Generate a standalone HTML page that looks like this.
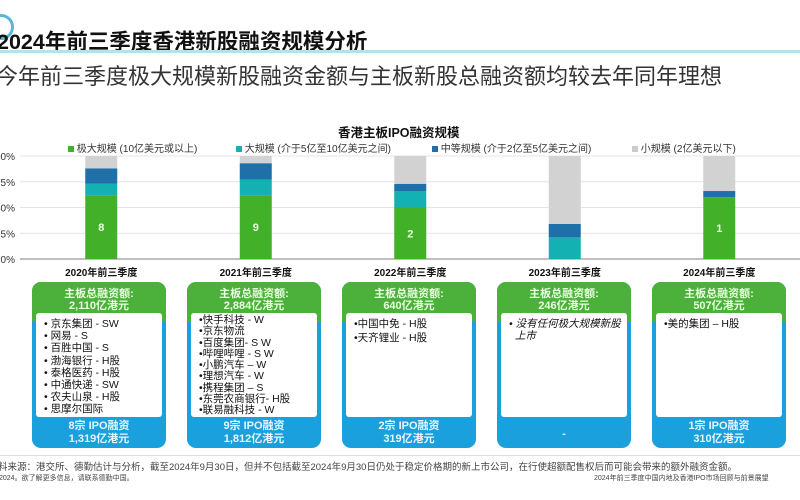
<!DOCTYPE html>
<html><head><meta charset="utf-8">
<style>
*{margin:0;padding:0;box-sizing:border-box}
body{width:800px;height:500px;background:#fff;position:relative;overflow:hidden;font-family:"Liberation Sans","Noto Sans CJK SC",sans-serif;color:#222}
.abs{position:absolute}
.card{position:absolute;top:282px;width:134px;height:166px;border-radius:9px;background:#1aa0dc;overflow:hidden}
.card .hd{position:absolute;left:0;top:0;width:100%;height:40px;background:#4cb13a;color:#e8ffe0;font-size:11px;font-weight:bold;text-align:center;line-height:12px;padding-top:6px}
.card .bd{position:absolute;left:4px;top:31px;width:126px;height:104px;background:#fff;border-radius:3px;font-size:10.5px;line-height:12.2px;padding:5px 0 0 8px;color:#111}
.card .ft{position:absolute;left:0;top:138px;width:100%;text-align:center;color:#e8f6ff;font-size:11px;font-weight:bold;line-height:13px}
.xl{position:absolute;font-size:10px;font-weight:bold;color:#111;width:120px;text-align:center;top:266px}
</style></head><body>
<div class="abs" style="left:-12px;top:14px;width:26px;height:26px;border:3px solid #5ab6d8;border-radius:50%"></div>
<div class="abs" style="left:-3px;top:25px;font-size:21.5px;font-weight:bold;color:#111;white-space:nowrap">2024年前三季度香港新股融资规模分析</div>
<div class="abs" style="left:0;top:50px;width:800px;height:3px;background:#b7dff0"></div>
<div class="abs" style="left:-4px;top:59px;font-size:22px;color:#333;white-space:nowrap">今年前三季度极大规模新股融资金额与主板新股总融资额均较去年同年理想</div>
<div class="abs" style="left:338px;top:122px;font-size:12.5px;font-weight:bold;color:#111">香港主板IPO融资规模</div>
<div class="abs" style="top:140px;left:0;width:800px;font-size:10px;color:#333;white-space:nowrap">
<span class="abs" style="left:68px"><span style="display:inline-block;width:6px;height:6px;background:#43b02a"></span> 极大规模 (10亿美元或以上)</span>
<span class="abs" style="left:236px"><span style="display:inline-block;width:6px;height:6px;background:#14b1b3"></span> 大规模 (介于5亿至10亿美元之间)</span>
<span class="abs" style="left:432px"><span style="display:inline-block;width:6px;height:6px;background:#1f6fa8"></span> 中等规模 (介于2亿至5亿美元之间)</span>
<span class="abs" style="left:632px"><span style="display:inline-block;width:6px;height:6px;background:#ccc"></span> 小规模 (2亿美元以下)</span>
</div>
<svg id="chart" class="abs" style="left:0;top:0" width="800" height="280"></svg>

<div class="card" style="left:32px">
<div class="hd">主板总融资额:<br>2,110亿港元</div>
<div class="bd">• 京东集团 - SW<br>• 网易 - S<br>• 百胜中国 - S<br>• 渤海银行 - H股<br>• 泰格医药 - H股<br>• 中通快递 - SW<br>• 农夫山泉 - H股<br>• 思摩尔国际</div>
<div class="ft">8宗 IPO融资<br>1,319亿港元</div></div>
<div class="card" style="left:187px">
<div class="hd">主板总融资额:<br>2,884亿港元</div>
<div class="bd" style="padding-top:2px;line-height:11.3px">•快手科技 - W<br>•京东物流<br>•百度集团- S W<br>•哔哩哔哩 - S W<br>•小鹏汽车 – W<br>•理想汽车 - W<br>•携程集团 – S<br>•东莞农商银行- H股<br>•联易融科技 - W</div>
<div class="ft">9宗 IPO融资<br>1,812亿港元</div></div>
<div class="card" style="left:342px">
<div class="hd">主板总融资额:<br>640亿港元</div>
<div class="bd" style="line-height:13.5px">•中国中免 - H股<br>•天齐锂业 - H股</div>
<div class="ft">2宗 IPO融资<br>319亿港元</div></div>
<div class="card" style="left:497px">
<div class="hd">主板总融资额:<br>246亿港元</div>
<div class="bd" style="font-style:italic;padding-left:8px">• 没有任何极大规模新股<br>&nbsp;&nbsp;上市</div>
<div class="ft" style="top:146px">-</div></div>
<div class="card" style="left:652px">
<div class="hd">主板总融资额:<br>507亿港元</div>
<div class="bd">•美的集团 – H股</div>
<div class="ft">1宗 IPO融资<br>310亿港元</div></div>

<div class="abs" style="left:0;top:455px;width:800px;height:1px;background:#ddd"></div>
<div class="abs" style="left:-2px;top:459px;font-size:9.5px;color:#444;white-space:nowrap">料来源：港交所、德勤估计与分析，截至2024年9月30日，但并不包括截至2024年9月30日仍处于稳定价格期的新上市公司，在行使超额配售权后而可能会带来的额外融资金额。</div>
<div class="abs" style="left:-1px;top:473px;font-size:7px;color:#444;white-space:nowrap">2024。欲了解更多信息，请联系德勤中国。</div>
<div class="abs" style="left:594px;top:473px;font-size:7px;color:#444;white-space:nowrap">2024年前三季度中国内地及香港IPO市场回顾与前景展望</div>

<script>
const categories=["2020年前三季度","2021年前三季度","2022年前三季度","2023年前三季度","2024年前三季度"];
const xlShare=[62,62,50,0,60];
const lShare=[11,15,16,21,0];
const mShare=[15,16,7,13,6];
const sShare=[12,7,27,66,34];
const barCounts=["8","9","2","","1"];
const yTicks=[0,25,50,75,100];
const yTickLabels=["0%","25%","50%","75%","100%"];
const colors=["#43b02a","#14b1b3","#1f6fa8","#d2d2d2"];
const y0=259,y1=156,xStart=24,step=154.5,barW=32;
const ys=v=>y0-(v/100)*(y0-y1);
const xc=i=>xStart+step*(i+0.5);
const svg=document.getElementById('chart');
const NS="http://www.w3.org/2000/svg";
yTicks.forEach((t,i)=>{
 const l=document.createElementNS(NS,'line');
 l.setAttribute('x1',20);l.setAttribute('x2',800);
 l.setAttribute('y1',ys(t));l.setAttribute('y2',ys(t));
 l.setAttribute('stroke',t===0?'#aaa':'#e4e4e4');l.setAttribute('stroke-width',t===0?1.5:1);
 
 
 svg.appendChild(l);
 const tx=document.createElementNS(NS,'text');
 tx.setAttribute('x',15);tx.setAttribute('y',ys(t)+4);tx.setAttribute('text-anchor','end');
 tx.setAttribute('font-size','10');tx.setAttribute('fill','#333');
 tx.textContent=yTickLabels[i];
 
 
 svg.appendChild(tx);
});
const series=[xlShare,lShare,mShare,sShare];
categories.forEach((c,i)=>{
 let acc=0;
 series.forEach((s,k)=>{
  const v=s[i];if(v<=0)return;
  const r=document.createElementNS(NS,'rect');
  r.setAttribute('x',xc(i)-barW/2);r.setAttribute('width',barW);
  r.setAttribute('y',ys(acc+v));r.setAttribute('height',ys(acc)-ys(acc+v));
  r.setAttribute('fill',colors[k]);
  
  
  svg.appendChild(r);
  acc+=v;
 });
 if(barCounts[i]){
  const t=document.createElementNS(NS,'text');
  t.setAttribute('x',xc(i));t.setAttribute('y',ys(xlShare[i]/2)+4);
  t.setAttribute('text-anchor','middle');t.setAttribute('font-size','11');t.setAttribute('font-weight','bold');t.setAttribute('fill','#eaffe0');
  t.textContent=barCounts[i];
  
  
  svg.appendChild(t);
 }
 const xt=document.createElementNS(NS,'text');
 xt.setAttribute('x',xc(i));xt.setAttribute('y',276);xt.setAttribute('text-anchor','middle');
 xt.setAttribute('font-size','10');xt.setAttribute('font-weight','bold');xt.setAttribute('fill','#111');
 xt.textContent=c;
 
 
 svg.appendChild(xt);
});
</script>
</body></html>
